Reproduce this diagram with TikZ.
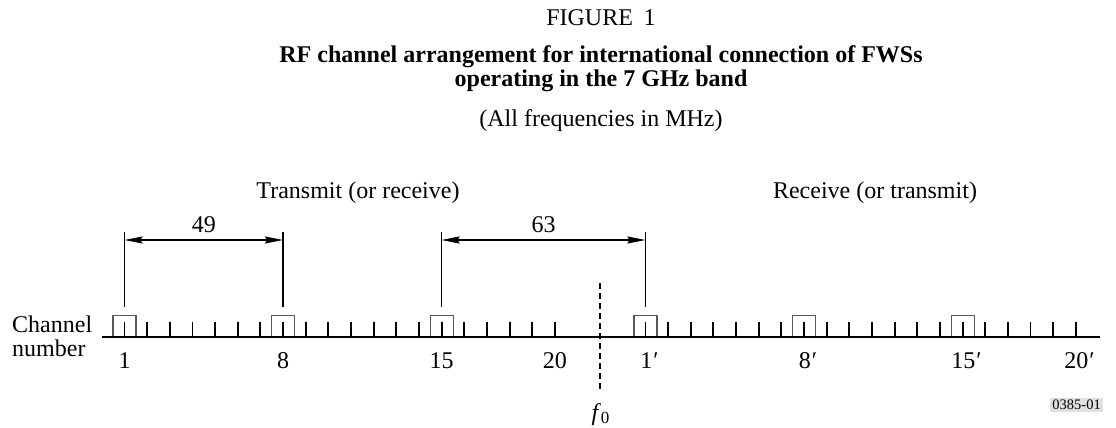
\documentclass[tikz,border=0pt]{standalone}
\usepackage{fontspec}
\setmainfont{Liberation Serif}
\usetikzlibrary{arrows.meta}
\begin{document}
\begin{tikzpicture}[x=1pt,y=-1pt,
  txt/.style={font=\fontsize{24}{26}\selectfont, inner sep=0pt},
  ttl/.style={font=\fontsize{24}{26}\selectfont\bfseries, inner sep=0pt},
  chtick/.style={line width=1.9pt},
  chbox/.style={draw=black!65, line width=1.1pt},
  axisline/.style={line width=2.4pt},
  dimline/.style={line width=1.6pt},
  dimarrow/.style={line width=1.6pt, {Stealth[length=18pt,width=7pt,inset=2pt]}-{Stealth[length=18pt,width=7pt,inset=2pt]}},
  fzero/.style={line width=1.8pt, dash pattern=on 6pt off 4pt},
  refbox/.style={fill=black!12, inner sep=2pt, font=\fontsize{14.5}{16}\selectfont},
]
\useasboundingbox (0,0) rectangle (1116,428);
% titles
\node[txt] (fig) at (601,18) {FIGURE\hspace{0.45em}1};
\node[ttl] (title1) at (601,57) {RF channel arrangement for international connection of FWSs};
\node[ttl] (title2) at (601,81) {operating in the 7 GHz band};
\node[txt] (allf) at (601,121) {(All frequencies in MHz)};
\node[txt] (tx) at (358,193) {Transmit (or receive)};
\node[txt] (rx) at (875,193) {Receive (or transmit)};
% axis
\coordinate (axL) at (102,337);
\coordinate (axR) at (1100,337);
\draw[axisline] (axL) -- (axR);
% ticks
\foreach \k in {1,...,20}{
  \pgfmathsetmacro\xa{124.5+(\k-1)*22.65}
  \pgfmathsetmacro\xb{124.5+(\k+22)*22.65}
  \draw[chtick] (\xa,322) -- (\xa,337);
  \draw[chtick] (\xb,322) -- (\xb,337);
}
% channel boxes
\foreach \i in {0,7,14,23,30,37}{
  \pgfmathsetmacro\xc{124.5+\i*22.65}
  \draw[chbox] (\xc-11.5,336) -- (\xc-11.5,315.5) -- (\xc+11.5,315.5) -- (\xc+11.5,336);
}
% channel numbers
\node[txt, anchor=base] (n1) at (124.5,368) {1};
\node[txt, anchor=base] (n8) at (283.05,368) {8};
\node[txt, anchor=base] (n15) at (441.6,368) {15};
\node[txt, anchor=base] (n20) at (554.85,368) {20};
\node[txt, anchor=base] (m1) at (649.5,368) {1\kern1pt′};
\node[txt, anchor=base] (m8) at (808,368) {8\kern1pt′};
\node[txt, anchor=base] (m15) at (966.5,368) {15\kern1pt′};
\node[txt, anchor=base] (m20) at (1079.5,368) {20\kern1pt′};
\node[txt, anchor=base west] (chl) at (12,332.5) {Channel};
\node[txt, anchor=base west] (chn) at (12,356.5) {number};
% f0 line
\coordinate (fT) at (600.15,283);
\coordinate (fB) at (600.15,390);
\draw[fzero] (fT) -- (fB);
\node[txt, anchor=base] (f0) at (600.5,420) {\textit{f}\raisebox{-3.5pt}{\fontsize{17}{17}\selectfont 0}};
% dimension lines
\coordinate (d1b) at (124.5,307);  \coordinate (d1t) at (124.5,232);
\coordinate (d8b) at (283.05,307); \coordinate (d8t) at (283.05,232);
\coordinate (d15b) at (441.6,307); \coordinate (d15t) at (441.6,232);
\coordinate (dpb) at (645.45,307); \coordinate (dpt) at (645.45,232);
\draw[dimline] (d1b) -- (d1t);
\draw[dimline] (d8b) -- (d8t);
\draw[dimline] (d15b) -- (d15t);
\draw[dimline] (dpb) -- (dpt);
\coordinate (a1) at (124.5,240);  \coordinate (a8) at (283.05,240);
\coordinate (a15) at (441.6,240); \coordinate (ap) at (645.45,240);
\draw[dimarrow] (a1) -- (a8);
\draw[dimarrow] (a15) -- (ap);
\node[txt] (l49) at (203.8,225) {49};
\node[txt] (l63) at (543.5,225) {63};
% reference
\node[refbox, anchor=east] (ref) at (1103,405) {0385-01};
\end{tikzpicture}
\end{document}
